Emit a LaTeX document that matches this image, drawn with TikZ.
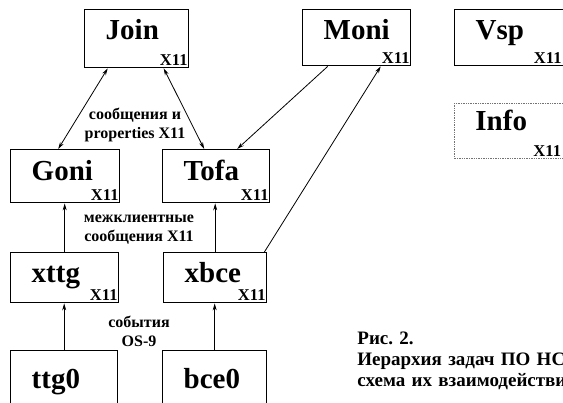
\documentclass[tikz,border=0pt]{standalone}
\usepackage{fontspec}
\setmainfont{Liberation Serif}
\usetikzlibrary{arrows.meta}
\frenchspacing

\begin{document}
\begin{tikzpicture}[x=1pt,y=-1pt,line width=.8pt,
  boxbase/.style 2 args={draw,line width=1.4pt,anchor=north west,inner xsep=21pt,inner ysep=0pt,align=left,text width=#1,text height=30pt,text depth=#2,font=\fontsize{29}{29}\selectfont\bfseries},
  x11/.style={anchor=south east,inner xsep=1.5pt,inner ysep=2pt,font=\fontsize{16.5}{16.5}\selectfont\bfseries},
  tbox/.style 2 args={boxbase={#1}{#2},label={[x11]south east:X11}},
  rbox/.style 2 args={boxbase={#1}{#2},label={[x11,xshift=-4pt]south east:X11}},
  note/.style={align=center,inner sep=0pt,font=\fontsize{16}{19}\selectfont\bfseries},
  flow/.style={-{Stealth[length=7pt,width=4pt]}},
  dflow/.style={{Stealth[length=7pt,width=4pt]}-{Stealth[length=7pt,width=4pt]}}]
\path[use as bounding box] (0,0) rectangle (563,403);
\clip (0,0) rectangle (563,403);
\node[tbox={62pt}{28pt}] (join) at (84,9) {Join};
\node[tbox={66pt}{26pt}] (moni) at (302,9) {Moni};
\node[rbox={70pt}{26pt}] (vsp) at (454,9) {Vsp};
\node[rbox={70pt}{28pt},text height=27pt,densely dotted,line width=.9pt,draw=black!55] (info) at (454,103) {Info};
\node[tbox={67pt}{22pt},text height=31pt] (goni) at (10,149) {Goni};
\node[tbox={65pt}{22pt},text height=31pt] (tofa) at (162,149) {Tofa};
\node[tbox={66pt}{20pt}] (xttg) at (10,252) {xttg};
\node[tbox={61pt}{20pt}] (xbce) at (163,252) {xbce};
\node[tbox={65pt}{30pt},text height=38pt] (ttg0) at (10,350) {ttg0};
\node[tbox={62pt}{30pt},text height=38pt] (bce0) at (162,350) {bce0};
\draw[dflow] ([xshift=-29pt]join.south) -- ([xshift=-7pt]goni.north);
\draw[dflow] ([xshift=27pt]join.south) -- ([xshift=-12pt]tofa.north);
\draw[flow] ([xshift=-29pt]moni.south) -- ([xshift=21pt]tofa.north);
\draw[flow] ([xshift=-3pt]xbce.north east) -- ([xshift=24pt]moni.south);
\draw[flow] (xttg.north) -- (xttg.north |- goni.south);
\draw[flow] (xbce.north) -- (xbce.north |- tofa.south);
\draw[flow] (ttg0.north) -- (ttg0.north |- xttg.south);
\draw[flow] (bce0.north) -- (bce0.north |- xbce.south);
\node[note] (props) at (135,125) {сообщения и\\properties X11};
\node[note] (msgs) at (139,230) {межклиентные\\сообщения X11};
\node[note] (events) at (139,331) {события\\OS-9};
\node[anchor=base west,inner sep=0pt,text width=260pt,align=left,font=\fontsize{19}{21}\selectfont\bfseries] (caption) at (357,345) {Рис. 2.\\Иерархия задач ПО НСИ и\\схема их взаимодействия.};
\end{tikzpicture}
\end{document}
